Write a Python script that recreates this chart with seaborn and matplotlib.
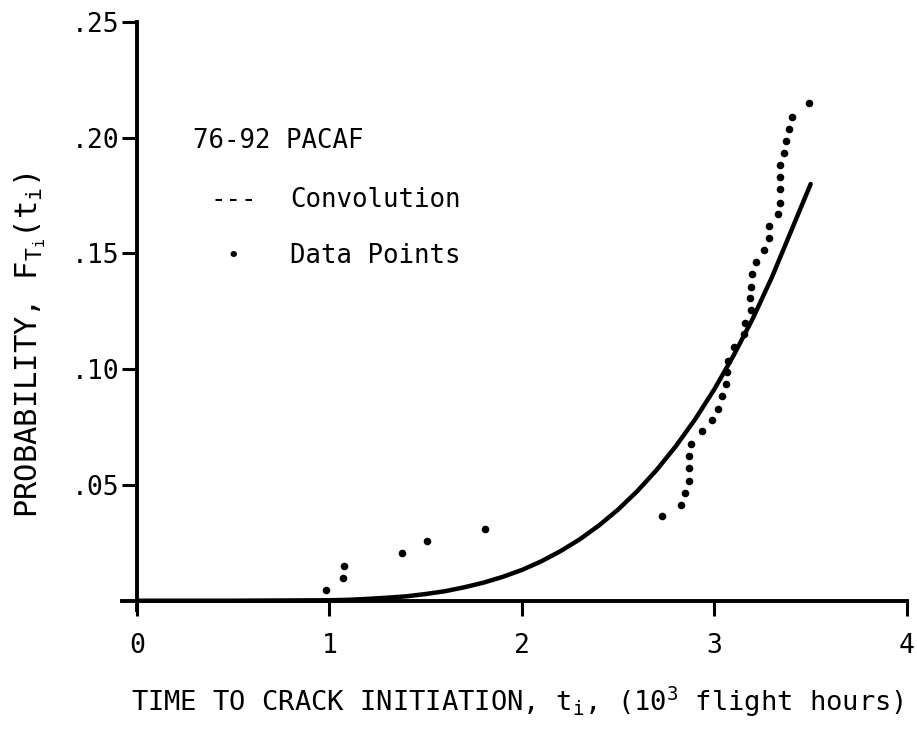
import matplotlib
matplotlib.use("Agg")
import matplotlib.pyplot as plt
import seaborn as sns
import pandas as pd

# Convolution curve
curve_x = [0.0, 0.5, 1.0, 1.1, 1.2, 1.3, 1.4, 1.5, 1.6, 1.7, 1.8, 1.9, 2.0, 2.1, 2.2,
           2.3, 2.4, 2.5, 2.6, 2.7, 2.8, 2.9, 3.0, 3.1, 3.2, 3.3, 3.4, 3.5]
curve_y = [0.0, 0.0, 0.0002, 0.0004, 0.0008, 0.0013, 0.0019, 0.0029, 0.0041, 0.0058,
           0.0078, 0.0103, 0.0133, 0.0170, 0.0214, 0.0265, 0.0325, 0.0394, 0.0474,
           0.0565, 0.0668, 0.0784, 0.0914, 0.1060, 0.1220, 0.1400, 0.1600, 0.1800]

# Data points
pts_x = [0.98, 1.068, 1.077, 1.377, 1.506, 1.81,
         2.729, 2.824, 2.847, 2.869, 2.868, 2.868, 2.878, 2.937, 2.987, 3.018,
         3.037, 3.06, 3.066, 3.07, 3.10, 3.153, 3.157, 3.188, 3.184, 3.19,
         3.193, 3.216, 3.259, 3.285, 3.282, 3.331, 3.34, 3.34, 3.34, 3.34,
         3.363, 3.371, 3.385, 3.404, 3.49]
pts_y = [0.0047, 0.0099, 0.0150, 0.0207, 0.0260, 0.0310,
         0.0364, 0.0415, 0.0465, 0.0519, 0.0574, 0.0625, 0.0675, 0.0734, 0.0782, 0.0830,
         0.0886, 0.0937, 0.0987, 0.1037, 0.1095, 0.1153, 0.1199, 0.1256, 0.1307, 0.1357,
         0.1412, 0.1465, 0.1516, 0.1566, 0.1620, 0.1670, 0.1720, 0.1778, 0.1830, 0.1880,
         0.1933, 0.1985, 0.2039, 0.2091, 0.2149]

x_ticks = [0, 1, 2, 3, 4]
x_ticklabels = ["0", "1", "2", "3", "4"]
y_ticks = [0.05, 0.10, 0.15, 0.20, 0.25]
y_ticklabels = [".05", ".10", ".15", ".20", ".25"]

sns.set_style("ticks")
FONT = "DejaVu Sans Mono"
plt.rcParams["font.family"] = [FONT, "DejaVu Sans"]
plt.rcParams["mathtext.fontset"] = "custom"
plt.rcParams["mathtext.rm"] = FONT
plt.rcParams["mathtext.it"] = FONT
plt.rcParams["mathtext.bf"] = FONT
plt.rcParams["text.color"] = "black"
plt.rcParams["xtick.color"] = "black"
plt.rcParams["ytick.color"] = "black"
plt.rcParams["xtick.labelcolor"] = "black"
plt.rcParams["ytick.labelcolor"] = "black"

fig = plt.figure(figsize=(9.17, 7.32), dpi=100)
ax = fig.add_axes([0.1326, 0.1667, 0.989 - 0.1326, 0.97 - 0.1667])

curve_df = pd.DataFrame({"x": curve_x, "y": curve_y})
pts_df = pd.DataFrame({"x": pts_x, "y": pts_y})

sns.lineplot(data=curve_df, x="x", y="y", ax=ax, color="black", lw=3.2,
             estimator=None, sort=False)
sns.scatterplot(data=pts_df, x="x", y="y", ax=ax, color="black", s=30,
                edgecolor="black", linewidth=0, zorder=5)

ax.set_xlim(-0.08, 4.0)
ax.set_ylim(-0.004, 0.25)
ax.spines["left"].set_position(("data", 0))
ax.spines["bottom"].set_position(("data", 0))
for s in ["top", "right"]:
    ax.spines[s].set_visible(False)
for s in ["left", "bottom"]:
    ax.spines[s].set_linewidth(2.8)
    ax.spines[s].set_color("black")

ax.set_xticks(x_ticks)
ax.set_xticklabels(x_ticklabels)
ax.set_yticks(y_ticks)
ax.set_yticklabels(y_ticklabels)
ax.tick_params(axis="both", direction="out", length=11, width=2.2, labelsize=19,
               colors="black", labelcolor="black")
ax.tick_params(axis="x", pad=12)
ax.tick_params(axis="y", pad=2)
ax.set_xlabel("")
ax.set_ylabel("")

fig.text(517 / 917, 1 - 702 / 732,
         r"TIME TO CRACK INITIATION, $\mathrm{t_i}$, ($\mathrm{10^3}$ flight hours)",
         ha="center", va="center", fontsize=19.5, color="black")
fig.text(30 / 917, 1 - 345 / 732, r"PROBABILITY, $\mathrm{F_{T_i}(t_i)}$",
         ha="center", va="center", rotation=90, fontsize=22, color="black")

ax.text(0.29, 0.1986, "76-92 PACAF", fontsize=18.5, va="center", ha="left")
ax.text(0.38, 0.173, "---", fontsize=18.5, va="center", ha="left")
ax.text(0.795, 0.173, "Convolution", fontsize=18.5, va="center", ha="left")
ax.text(0.50, 0.149, "\u2022", fontsize=16, va="center", ha="center")
ax.text(0.795, 0.149, "Data Points", fontsize=18.5, va="center", ha="left")

fig.savefig("out.png", dpi=100, facecolor="white")
